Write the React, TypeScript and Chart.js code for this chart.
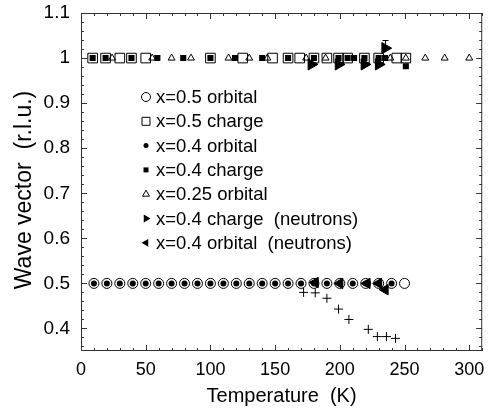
import React, { useEffect, useRef } from "react";
import { Chart, registerables } from "chart.js";

Chart.register(...registerables);

const FONT = "'Liberation Sans', Arial, Helvetica, sans-serif";

// ---- tick labels / titles ----
const xTickValues = [0, 50, 100, 150, 200, 250, 300];
const yTickValues = [0.4, 0.5, 0.6, 0.7, 0.8, 0.9, 1.0, 1.1];
const yTickLabels = ["0.4", "0.5", "0.6", "0.7", "0.8", "0.9", "1", "1.1"];
const xTitle = "Temperature  (K)";
const yTitle = "Wave vector  (r.l.u.)";

// ---- data ----
// x=0.5 orbital (open circles)
const orb05T = [10, 20, 30, 40, 50, 60, 70, 80, 90, 100, 110, 120, 130, 140, 150, 160, 170, 180, 190, 200, 210, 220, 230, 240, 250];
const orb05Q = [0.5, 0.5, 0.5, 0.5, 0.5, 0.5, 0.5, 0.5, 0.5, 0.5, 0.5, 0.5, 0.5, 0.5, 0.5, 0.5, 0.5, 0.5, 0.5, 0.5, 0.5, 0.5, 0.5, 0.5, 0.5];
// x=0.5 charge (open squares)
const ch05T = [9, 19, 30, 39, 50, 100, 125, 148, 160, 169, 180, 190, 199, 206, 219, 230, 244, 251];
const ch05Q = [1, 1, 1, 1, 1, 1, 1, 1, 1, 1, 1, 1, 1, 1, 1, 1, 1, 1];
// x=0.4 orbital (filled dots)
const orb04T = [10, 20, 30, 40, 50, 60, 70, 80, 90, 100, 110, 120, 130, 140, 150, 160, 170, 180, 190, 200, 210, 220, 230, 240];
const orb04Q = [0.5, 0.5, 0.5, 0.5, 0.5, 0.5, 0.5, 0.5, 0.5, 0.5, 0.5, 0.5, 0.5, 0.5, 0.5, 0.5, 0.5, 0.5, 0.5, 0.5, 0.5, 0.5, 0.5, 0.5];
// x=0.4 charge (filled squares)
const ch04T = [9, 19, 39, 59, 79, 100, 119, 140, 160, 180, 199, 206, 211, 219, 230, 235, 251];
const ch04Q = [1, 1, 1, 1, 1, 1, 1, 1, 1, 1, 1, 1, 1, 1, 1, 1, 0.982];
// x=0.25 orbital (open triangles)
const orb025T = [24, 55, 70, 85, 114, 130, 144, 174, 189, 239, 251, 266, 281, 300];
const orb025Q = [1, 1, 1, 1, 1, 1, 1, 1, 1, 1, 1, 1, 1, 1];
// x=0.4 charge (neutrons) (right triangles)
const chNeuT = [178, 199, 219, 230, 235];
const chNeuQ = [0.986, 0.986, 0.986, 0.986, 1.022];
const chNeuErrHi = [null, null, null, null, 1.04];
// x=0.4 orbital (neutrons) (left triangles)
const orbNeuT = [181, 200, 221, 230, 235];
const orbNeuQ = [0.502, 0.5, 0.5, 0.5, 0.486];
// unlabeled crosses
const crossT = [172, 181, 190, 199, 207, 222, 229, 236, 243];
const crossQ = [0.48, 0.479, 0.467, 0.443, 0.42, 0.398, 0.382, 0.382, 0.378];

const legendLabels = [
  "x=0.5 orbital",
  "x=0.5 charge",
  "x=0.4 orbital",
  "x=0.4 charge",
  "x=0.25 orbital",
  "x=0.4 charge  (neutrons)",
  "x=0.4 orbital  (neutrons)",
];
const legendKinds = ["circle", "square", "dot", "fsquare", "tri", "rtri", "ltri"];

const pts = (xs: number[], ys: number[]) => xs.map((x, i) => ({ x, y: ys[i] }));

function drawMarker(ctx: CanvasRenderingContext2D, kind: string, x: number, y: number, s: number) {
  ctx.save();
  ctx.strokeStyle = "#000";
  ctx.fillStyle = "#000";
  ctx.lineWidth = 1;
  ctx.beginPath();
  if (kind === "circle") {
    ctx.arc(x, y, s, 0, Math.PI * 2);
    ctx.stroke();
  } else if (kind === "dot") {
    ctx.arc(x, y, s, 0, Math.PI * 2);
    ctx.fill();
  } else if (kind === "square") {
    ctx.rect(x - s, y - s, 2 * s, 2 * s);
    ctx.stroke();
  } else if (kind === "fsquare") {
    ctx.rect(x - s, y - s, 2 * s, 2 * s);
    ctx.fill();
  } else if (kind === "tri") {
    ctx.moveTo(x, y - s);
    ctx.lineTo(x + s * 0.866, y + s * 0.5);
    ctx.lineTo(x - s * 0.866, y + s * 0.5);
    ctx.closePath();
    ctx.stroke();
  } else if (kind === "rtri") {
    ctx.moveTo(x + s, y);
    ctx.lineTo(x - s * 0.5, y - s * 0.866);
    ctx.lineTo(x - s * 0.5, y + s * 0.866);
    ctx.closePath();
    ctx.fill();
  } else if (kind === "ltri") {
    ctx.moveTo(x - s, y);
    ctx.lineTo(x + s * 0.5, y - s * 0.866);
    ctx.lineTo(x + s * 0.5, y + s * 0.866);
    ctx.closePath();
    ctx.fill();
  }
  ctx.restore();
}

const framePlugin = {
  id: "frameTicks",
  afterDatasetsDraw(chart: any) {
    const { ctx, chartArea: a, scales } = chart;
    const xs = scales.x;
    const ys = scales.y;
    ctx.save();
    ctx.strokeStyle = "#333";
    ctx.lineWidth = 1;
    ctx.strokeRect(a.left + 0.5, a.top + 0.5, a.right - a.left - 1, a.bottom - a.top - 1);
    ctx.beginPath();
    // x ticks (minor every 10, major every 50)
    for (let v = 0; v <= 310; v += 10) {
      const px = Math.round(xs.getPixelForValue(v)) + 0.5;
      const len = v % 50 === 0 ? 6 : 3;
      ctx.moveTo(px, a.bottom);
      ctx.lineTo(px, a.bottom - len);
      ctx.moveTo(px, a.top);
      ctx.lineTo(px, a.top + len);
    }
    // y ticks (minor every 0.02, major every 0.1)
    for (let k = 36; k <= 110; k += 2) {
      const v = k / 100;
      const py = Math.round(ys.getPixelForValue(v)) + 0.5;
      const len = k % 10 === 0 ? 6 : 3;
      ctx.moveTo(a.left, py);
      ctx.lineTo(a.left + len, py);
      ctx.moveTo(a.right, py);
      ctx.lineTo(a.right - len, py);
    }
    ctx.stroke();

    // error bars for neutron charge data
    ctx.beginPath();
    chNeuT.forEach((t, i) => {
      const hi = chNeuErrHi[i];
      if (hi == null) return;
      const px = Math.round(xs.getPixelForValue(t)) + 0.5;
      const py0 = ys.getPixelForValue(chNeuQ[i]);
      const py1 = Math.round(ys.getPixelForValue(hi)) + 0.5;
      ctx.moveTo(px, py0);
      ctx.lineTo(px, py1);
      ctx.moveTo(px - 3, py1);
      ctx.lineTo(px + 3, py1);
    });
    ctx.strokeStyle = "#000";
    ctx.stroke();

    // y-axis title
    ctx.save();
    ctx.translate(25, 190);
    ctx.rotate(-Math.PI / 2);
    ctx.font = `23px ${FONT}`;
    ctx.fillStyle = "#000";
    ctx.textAlign = "center";
    ctx.textBaseline = "middle";
    ctx.fillText(yTitle, 0, 0);
    ctx.restore();

    // legend
    const lx = 146;
    const tx = 156;
    const y0 = 97;
    const dy = 24.3;
    const sizes = [4.5, 4, 2.5, 2.5, 4, 4.5, 4.5];
    ctx.font = `18.5px ${FONT}`;
    ctx.fillStyle = "#000";
    ctx.textBaseline = "middle";
    ctx.textAlign = "left";
    legendLabels.forEach((lab, i) => {
      const y = y0 + i * dy;
      drawMarker(ctx, legendKinds[i], lx, y, sizes[i]);
      ctx.fillStyle = "#000";
      ctx.fillText(lab, tx, y + 1);
    });
    ctx.restore();
  },
};

export default function App() {
  const ref = useRef<HTMLCanvasElement | null>(null);
  useEffect(() => {
    document.body.style.margin = "0";
    const canvas = ref.current;
    if (!canvas) return;
    const black = "#000";
    const chart = new Chart(canvas, {
      type: "scatter",
      data: {
        datasets: [
          {
            label: "x=0.4 orbital (neutrons)",
            data: pts(orbNeuT, orbNeuQ),
            pointStyle: "triangle",
            rotation: -90,
            pointRadius: 6,
            backgroundColor: black,
            borderColor: black,
            borderWidth: 1,
          },
          {
            label: "x=0.4 charge (neutrons)",
            data: pts(chNeuT, chNeuQ),
            pointStyle: "triangle",
            rotation: 90,
            pointRadius: 6.5,
            backgroundColor: black,
            borderColor: black,
            borderWidth: 1,
          },
          {
            label: "x=0.4 orbital",
            data: pts(orb04T, orb04Q),
            pointStyle: "circle",
            pointRadius: 3,
            backgroundColor: black,
            borderColor: black,
            borderWidth: 0,
          },
          {
            label: "x=0.4 charge",
            data: pts(ch04T, ch04Q),
            pointStyle: "rect",
            pointRadius: 4.3,
            backgroundColor: black,
            borderColor: black,
            borderWidth: 0,
          },
          {
            label: "x=0.25 orbital",
            data: pts(orb025T, orb025Q),
            pointStyle: "triangle",
            pointRadius: 4,
            backgroundColor: "rgba(0,0,0,0)",
            borderColor: black,
            borderWidth: 1,
          },
          {
            label: "x=0.5 charge",
            data: pts(ch05T, ch05Q),
            pointStyle: "rect",
            pointRadius: 6.8,
            backgroundColor: "rgba(0,0,0,0)",
            borderColor: black,
            borderWidth: 1,
          },
          {
            label: "x=0.5 orbital",
            data: pts(orb05T, orb05Q),
            pointStyle: "circle",
            pointRadius: 5,
            backgroundColor: "rgba(0,0,0,0)",
            borderColor: black,
            borderWidth: 1,
          },
          {
            label: "cross",
            data: pts(crossT, crossQ),
            pointStyle: "cross",
            pointRadius: 4.5,
            backgroundColor: black,
            borderColor: black,
            borderWidth: 1,
          },
        ],
      },
      options: {
        animation: false,
        responsive: false,
        devicePixelRatio: 1,
        layout: { padding: { top: 13, right: 3, left: 0, bottom: 0 } },
        plugins: {
          legend: { display: false },
          tooltip: { enabled: false },
        },
        scales: {
          x: {
            type: "linear",
            min: 0,
            max: 310,
            afterBuildTicks: (s: any) => {
              s.ticks = xTickValues.map((v) => ({ value: v }));
            },
            afterFit: (s: any) => {
              s.height = 62;
              s.paddingLeft = 0;
              s.paddingRight = 0;
            },
            grid: { display: false, drawTicks: false },
            border: { display: false },
            ticks: {
              autoSkip: false,
              maxRotation: 0,
              padding: 8,
              color: black,
              font: { family: FONT, size: 18 },
              callback: (v: any) => String(v),
            },
            title: {
              display: true,
              text: xTitle,
              color: black,
              font: { family: FONT, size: 20 },
              padding: { top: 0, bottom: 5 },
            },
          },
          y: {
            type: "linear",
            min: 0.35,
            max: 1.1,
            afterBuildTicks: (s: any) => {
              s.ticks = yTickValues.map((v) => ({ value: v }));
            },
            afterFit: (s: any) => {
              s.width = 81;
              s.paddingTop = 0;
              s.paddingBottom = 0;
            },
            grid: { display: false, drawTicks: false },
            border: { display: false },
            ticks: {
              autoSkip: false,
              padding: 11,
              color: black,
              font: { family: FONT, size: 19 },
              callback: (v: any) => {
                const i = yTickValues.findIndex((t) => Math.abs(t - v) < 1e-9);
                return i >= 0 ? yTickLabels[i] : "";
              },
            },
            title: { display: false },
          },
        },
      },
      plugins: [framePlugin],
    } as any);
    return () => chart.destroy();
  }, []);
  return (
    <div style={{ width: 490, height: 413 }}>
      <canvas ref={ref} width={490} height={413} style={{ display: "block" }} />
    </div>
  );
}
